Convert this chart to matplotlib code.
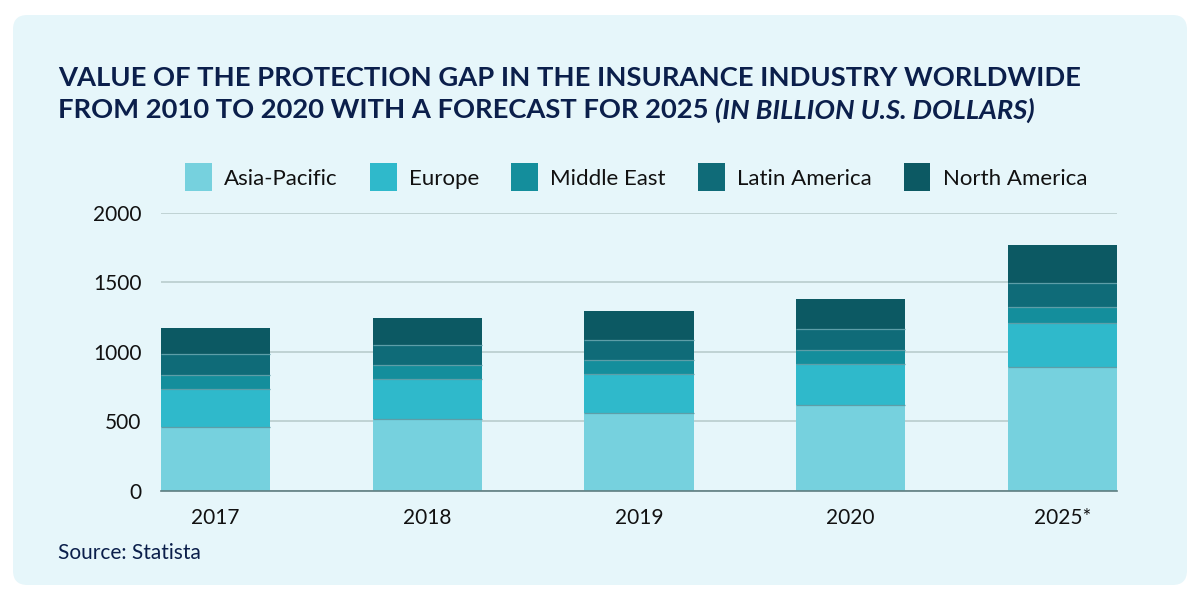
import numpy as np
import matplotlib
matplotlib.use("Agg")
import matplotlib.pyplot as plt
from matplotlib.patches import FancyBboxPatch

plt.rcParams['font.family'] = ['Lato', 'DejaVu Sans']

# Datos (miles de millones USD)
years = ['2017', '2018', '2019', '2020', '2025*']
regions = ['Asia-Pacific', 'Europe', 'Middle East', 'Latin America', 'North America']
asia_pacific = [460, 517, 563, 618, 891]
europe = [273, 288, 278, 293, 316]
middle_east = [99, 101, 98, 103, 113]
latin_america = [150, 141, 144, 151, 175]
north_america = [189, 198, 211, 218, 273]
colors = ['#76d1de', '#2fb9cb', '#148e9c', '#0f6b78', '#0c5963']

series = [asia_pacific, europe, middle_east, latin_america, north_america]

bg = '#e6f6fa'
navy = '#0b1f4b'

fig = plt.figure(figsize=(12, 6), dpi=100)
fig.patch.set_facecolor('white')

# panel de fondo redondeado
panel = FancyBboxPatch((13 / 1200, 15 / 600), 1174 / 1200, 570 / 600,
                       boxstyle='round,pad=0,rounding_size=0.012',
                       transform=fig.transFigure, facecolor=bg, edgecolor='none',
                       zorder=-10, mutation_aspect=2)
fig.patches.append(panel)

ax = fig.add_axes([0.134, 0.1817, 0.797, 0.4638])
ax.set_facecolor(bg)
ax.patch.set_alpha(0)

x = np.arange(len(years))
width = 0.517
bottom = np.zeros(len(years))
for i, (name, vals, col) in enumerate(zip(regions, series, colors)):
    ax.bar(x, vals, width, bottom=bottom, color=col, label=name,
           edgecolor='none', zorder=3)
    if i > 0:
        # línea fina entre segmentos
        ax.hlines(bottom, x - width / 2, x + width / 2, color='#5d9ea8',
                  linewidth=0.9, zorder=4)
    bottom += np.array(vals)

ax.set_xlim(-width / 2, len(years) - 1 + width / 2)
ax.set_ylim(0, 2000)
ax.set_yticks([0, 500, 1000, 1500, 2000])
ax.set_xticks(x)
ax.set_xticklabels(years)
ax.tick_params(axis='y', length=0, pad=14, labelsize=15, labelcolor='#111111')
ax.tick_params(axis='x', length=0, pad=12, labelsize=15, labelcolor='#111111')
ax.grid(axis='y', color='#b5c9c9', linewidth=1.1, zorder=0)
for s in ['top', 'right', 'left']:
    ax.spines[s].set_visible(False)
ax.spines['bottom'].set_color('#5f7d80')
ax.spines['bottom'].set_linewidth(1.2)
ax.spines['bottom'].set_zorder(5)

leg = ax.legend(ncol=5, loc='center', bbox_to_anchor=(0.497, 1.127), frameon=False,
                fontsize=16, handlelength=1.2, handleheight=1.55, columnspacing=1.45,
                handletextpad=0.55)
for t in leg.get_texts():
    t.set_color('#111111')

fig.text(58 / 1200, 1 - 78 / 600, 'VALUE OF THE PROTECTION GAP IN THE INSURANCE INDUSTRY WORLDWIDE',
         fontsize=19.7, fontweight='bold', color=navy, va='center', ha='left')
t1 = fig.text(58 / 1200, 1 - 110 / 600, 'FROM 2010 TO 2020 WITH A FORECAST FOR 2025 ',
              fontsize=19.7, fontweight='bold', color=navy, va='center', ha='left')
fig.canvas.draw()
bb = t1.get_window_extent()
fig.text(bb.x1 / 1200, 1 - 110 / 600, '(IN BILLION U.S. DOLLARS)',
         fontsize=19.7, fontweight='bold', fontstyle='italic', color=navy, va='center', ha='left')

fig.text(58 / 1200, 1 - 553 / 600, 'Source: Statista', fontsize=15, color=navy,
         va='center', ha='left')

fig.savefig('out.png', dpi=100, facecolor='white')
